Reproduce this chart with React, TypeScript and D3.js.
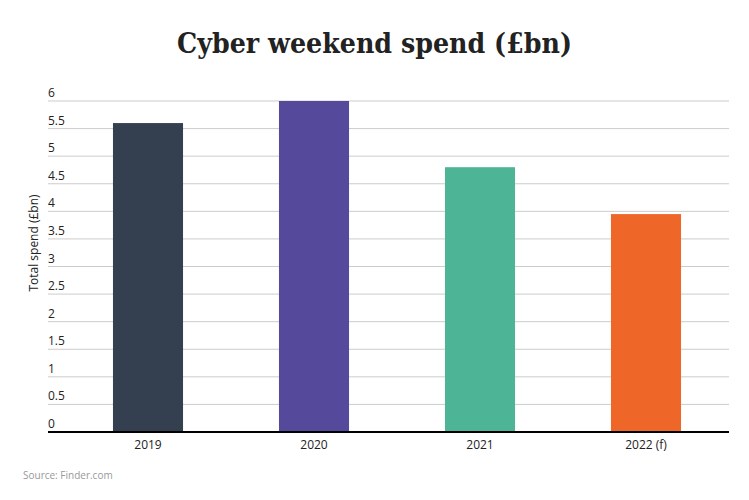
import React from "react";
import * as d3 from "d3";

const categories = ["2019", "2020", "2021", "2022 (f)"];
const values = [5.6, 6.0, 4.8, 3.95];
const colors = ["#343f50", "#55499b", "#4db596", "#ef6629"];
const yTicks = [0, 0.5, 1, 1.5, 2, 2.5, 3, 3.5, 4, 4.5, 5, 5.5, 6];

const W = 749, H = 500;
const left = 48, right = 729, top = 101, bottom = 432;

export default function App() {
  const x = d3.scaleBand<string>().domain(categories).range([65, 729]).paddingInner(0.578).paddingOuter(0.289);
  const y = d3.scaleLinear().domain([0, 6]).range([bottom, top]);
  const font = "'Open Sans', sans-serif";
  return (
    <svg width={W} height={H} style={{ position: "absolute", left: 0, top: 0, background: "#fff" }}>
      <text x={374.5} y={53} textAnchor="middle" fontFamily="'DejaVu Serif', serif" fontWeight="bold" fontSize={27} fill="#222" textLength={395} lengthAdjust="spacingAndGlyphs">
        Cyber weekend spend (£bn)
      </text>
      {yTicks.map((t) => (
        <g key={t}>
          {t > 0 && <line x1={left} x2={right} y1={y(t)} y2={y(t)} stroke="#cccccc" strokeWidth={1} />}
          <text x={left} y={y(t) - 4} fontFamily={font} fontSize={12} fill="#222">{String(t)}</text>
        </g>
      ))}
      {categories.map((c, i) => (
        <rect key={c} x={x(c)} y={y(values[i])} width={x.bandwidth()} height={bottom - y(values[i])} fill={colors[i]} />
      ))}
      <line x1={left} x2={right} y1={bottom} y2={bottom} stroke="#000" strokeWidth={2} />
      {categories.map((c) => (
        <text key={c} x={(x(c) as number) + x.bandwidth() / 2} y={449} textAnchor="middle" fontFamily={font} fontSize={12} fill="#222">{c}</text>
      ))}
      <text transform={`translate(38,243) rotate(-90)`} textAnchor="middle" fontFamily={font} fontSize={12} fill="#222">Total spend (£bn)</text>
      <text x={23} y={479} fontFamily={font} fontSize={10} fill="#999">Source: Finder.com</text>
    </svg>
  );
}
